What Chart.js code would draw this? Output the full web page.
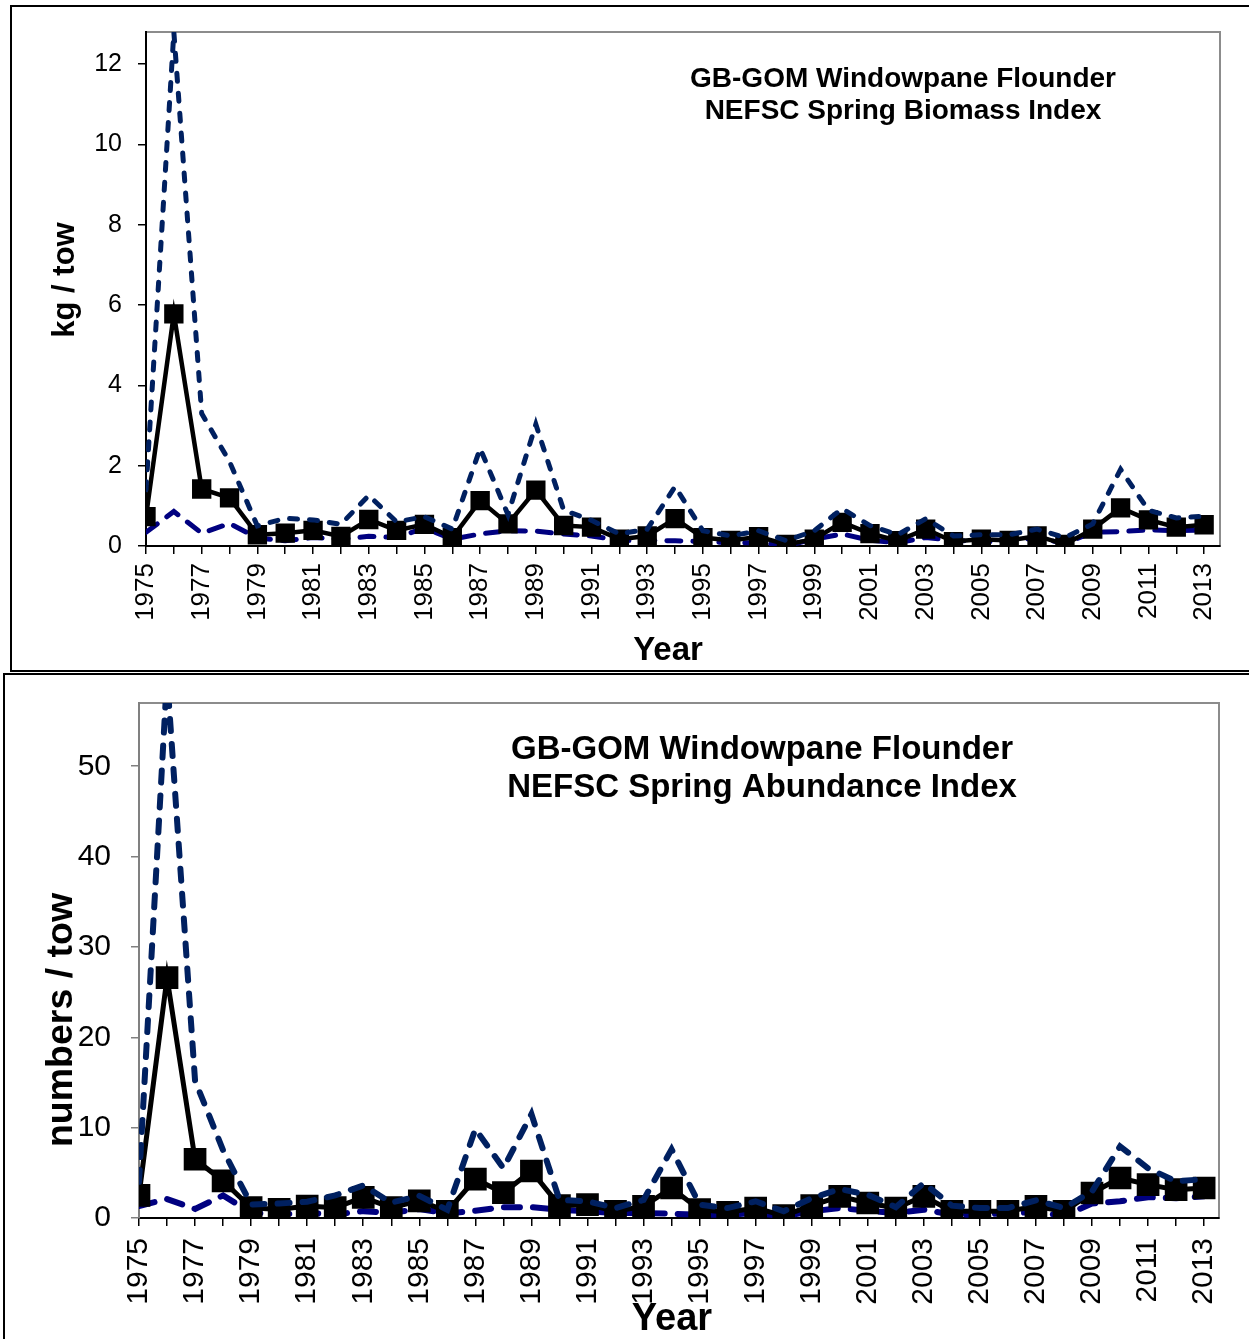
<!DOCTYPE html>
<html>
<head>
<meta charset="utf-8">
<script src="https://cdn.jsdelivr.net/npm/chart.js@4.4.1/dist/chart.umd.min.js"></script>
<style>
  body { margin: 0; background: #fff; overflow: hidden; width: 1249px; height: 1339px; position: relative; }
  .panel { position: absolute; border: 2px solid #000; box-sizing: border-box; }
  canvas { position: absolute; }
</style>
</head>
<body>
<div class="panel" style="left:10px; top:5px; width:1260px; height:667px;"></div>
<div class="panel" style="left:3px; top:673px; width:1270px; height:700px;"></div>
<canvas id="biomass" width="1239" height="665" style="left:10px; top:5px;"></canvas>
<canvas id="abundance" width="1246" height="664" style="left:3px; top:675px;"></canvas>
<script>
const FONT = "'Liberation Sans', Arial, sans-serif";

const years = [1975, 1976, 1977, 1978, 1979, 1980, 1981, 1982, 1983, 1984,
               1985, 1986, 1987, 1988, 1989, 1990, 1991, 1992, 1993, 1994,
               1995, 1996, 1997, 1998, 1999, 2000, 2001, 2002, 2003, 2004,
               2005, 2006, 2007, 2008, 2009, 2010, 2011, 2012, 2013];

// spring biomass index (kg / tow) with upper and lower bounds
const biomass = [0.73, 5.78, 1.42, 1.2, 0.28, 0.32, 0.39, 0.24, 0.66, 0.39,
                 0.54, 0.21, 1.13, 0.55, 1.39, 0.51, 0.47, 0.17, 0.25, 0.68,
                 0.21, 0.14, 0.23, 0.04, 0.17, 0.59, 0.31, 0.13, 0.42, 0.11,
                 0.17, 0.14, 0.25, 0.04, 0.42, 0.95, 0.65, 0.47, 0.53];
const biomassUpper = [1.4, 12.8, 3.3, 2.1, 0.5, 0.69, 0.65, 0.54, 1.26, 0.6,
                      0.73, 0.42, 2.43, 0.78, 3.03, 0.89, 0.64, 0.3, 0.42, 1.48,
                      0.38, 0.25, 0.38, 0.13, 0.38, 0.93, 0.51, 0.28, 0.68, 0.25,
                      0.28, 0.28, 0.42, 0.21, 0.55, 1.91, 0.89, 0.7, 0.74];
const biomassLower = [0.34, 0.86, 0.32, 0.56, 0.2, 0.13, 0.21, 0.17, 0.24, 0.21,
                      0.45, 0.17, 0.3, 0.38, 0.37, 0.3, 0.25, 0.14, 0.14, 0.13,
                      0.11, 0.08, 0.08, 0.01, 0.17, 0.3, 0.14, 0.08, 0.21, 0.14,
                      0.11, 0.11, 0.21, 0.06, 0.34, 0.36, 0.4, 0.38, 0.4];

// spring abundance index (numbers / tow) with upper and lower bounds
const abundance = [2.5, 26.6, 6.5, 4.1, 1.14, 0.95, 1.33, 1.14, 2.29, 1.14,
                   1.9, 0.75, 4.3, 2.8, 5.2, 1.37, 1.48, 0.74, 1.29, 3.32,
                   0.92, 0.63, 1.1, 0.26, 1.37, 2.4, 1.66, 1.1, 2.4, 0.74,
                   0.74, 0.74, 1.29, 0.74, 2.77, 4.43, 3.69, 3.14, 3.32];
const abundanceUpper = [4.0, 60, 15.2, 7.5, 1.5, 1.6, 1.8, 2.5, 3.6, 1.7,
                        2.45, 0.9, 9.85, 5.5, 11.5, 2.0, 1.85, 1.1, 2.0, 7.6,
                        1.48, 1.1, 1.85, 0.74, 2.2, 3.2, 2.58, 1.2, 3.87, 1.37,
                        1.1, 1.1, 1.96, 1.1, 2.95, 7.93, 5.5, 4.06, 4.3];
const abundanceLower = [1.33, 2.1, 1.0, 2.5, 0.57, 0.38, 0.57, 0.38, 0.76, 0.57,
                        1.0, 0.5, 0.8, 1.2, 1.2, 0.9, 0.74, 0.55, 0.55, 0.48,
                        0.37, 0.37, 0.55, 0.18, 0.74, 1.1, 0.8, 0.55, 0.92, 0.37,
                        0.37, 0.55, 0.63, 0.26, 1.6, 1.85, 2.3, 2.2, 2.4];

const toPoints = (vals) => years.map((y, i) => ({ x: y, y: vals[i] }));

// gray frame around the plot, then the title and axis titles on top
const framePlugin = {
    id: 'frame',
    beforeDraw(chart) {
        const { ctx, chartArea: a } = chart;
        ctx.save();
        ctx.strokeStyle = '#8c8c8c';
        ctx.lineWidth = 2;
        ctx.strokeRect(a.left, a.top, a.right - a.left, a.bottom - a.top);
        ctx.restore();
    },
    afterDraw(chart, args, opts) {
        const ctx = chart.ctx;
        opts.texts.forEach((t) => {
            ctx.save();
            ctx.fillStyle = '#000';
            ctx.textAlign = 'center';
            ctx.textBaseline = 'middle';
            ctx.font = 'bold ' + t.size + 'px ' + FONT;
            ctx.translate(t.x, t.y);
            if (t.rotate) ctx.rotate(-Math.PI / 2);
            ctx.fillText(t.text, 0, 0);
            ctx.restore();
        });
    }
};

function makeChart(id, o) {
    return new Chart(document.getElementById(id), {
        type: 'line',
        data: {
            datasets: [
                {
                    label: 'Lower', data: toPoints(o.lower),
                    borderColor: '#000080', borderWidth: o.dashWidth,
                    borderDash: o.lowerDash, borderCapStyle: 'round',
                    pointRadius: 0, tension: 0, order: 3
                },
                {
                    label: 'Index', data: toPoints(o.mean),
                    borderColor: '#000', borderWidth: o.meanWidth,
                    pointStyle: 'rect', pointRadius: o.markerR,
                    pointBackgroundColor: '#000', pointBorderColor: '#000',
                    tension: 0, order: 2
                },
                {
                    label: 'Upper', data: toPoints(o.upper),
                    borderColor: '#002060', borderWidth: o.dashWidth,
                    borderDash: o.upperDash, borderCapStyle: 'round',
                    pointRadius: 0, tension: 0, order: 1
                }
            ]
        },
        options: {
            responsive: false,
            animation: false,
            devicePixelRatio: 1,
            layout: { padding: o.padding },
            plugins: {
                legend: { display: false },
                tooltip: { enabled: false },
                frame: { texts: o.texts }
            },
            scales: {
                x: {
                    type: 'linear',
                    min: 1975,
                    max: o.xMax,
                    afterFit: (s) => {
                        s.height = o.xHeight;
                        s.paddingLeft = 0;
                        s.paddingRight = 0;
                    },
                    border: { color: '#000', width: 2 },
                    grid: { drawOnChartArea: false, drawTicks: true, tickLength: 8, color: '#000', lineWidth: 1.5 },
                    ticks: {
                        stepSize: 1,
                        includeBounds: false,
                        autoSkip: false,
                        maxRotation: 90,
                        minRotation: 90,
                        padding: o.xPad,
                        color: '#000',
                        font: { family: FONT, size: o.xTickSize },
                        callback: (v) => (v % 2 === 1 ? String(v) : '')
                    }
                },
                y: {
                    min: 0,
                    max: o.yMax,
                    afterFit: (s) => {
                        s.width = o.yWidth;
                        s.paddingTop = 0;
                        s.paddingBottom = 0;
                    },
                    border: { color: o.yAxisColor, width: 2 },
                    grid: { drawOnChartArea: false, drawTicks: true, tickLength: 8, color: o.yAxisColor, lineWidth: 1.5 },
                    ticks: {
                        stepSize: o.yStep,
                        includeBounds: false,
                        padding: o.yPad,
                        color: '#000',
                        font: { family: FONT, size: o.yTickSize }
                    }
                }
            }
        },
        plugins: [framePlugin]
    });
}

makeChart('biomass', {
    mean: biomass, upper: biomassUpper, lower: biomassLower,
    padding: { left: 0, top: 27, right: 29, bottom: 0 },
    xMax: 2013.57, yMax: 12.8, yStep: 2,
    xHeight: 124, yWidth: 136,
    xPad: 9, yPad: 16, xTickSize: 26, yTickSize: 25,
    yAxisColor: '#000',
    dashWidth: 5, meanWidth: 4.5, markerR: 10.5,
    upperDash: [8, 12], lowerDash: [14, 12],
    texts: [
        { text: 'GB-GOM Windowpane Flounder', x: 893, y: 74, size: 28 },
        { text: 'NEFSC Spring Biomass Index', x: 893, y: 106, size: 28 },
        { text: 'kg / tow', x: 55, y: 275, size: 31, rotate: true },
        { text: 'Year', x: 658, y: 646, size: 33 }
    ]
});

makeChart('abundance', {
    mean: abundance, upper: abundanceUpper, lower: abundanceLower,
    padding: { left: 0, top: 28, right: 30, bottom: 0 },
    xMax: 2013.53, yMax: 57, yStep: 10,
    xHeight: 121, yWidth: 136,
    xPad: 12, yPad: 20, xTickSize: 30, yTickSize: 30,
    yAxisColor: '#808080',
    dashWidth: 6, meanWidth: 5, markerR: 12.5,
    upperDash: [12, 13], lowerDash: [16, 13],
    texts: [
        { text: 'GB-GOM Windowpane Flounder', x: 759, y: 75, size: 33 },
        { text: 'NEFSC Spring Abundance Index', x: 759, y: 113, size: 33 },
        { text: 'numbers / tow', x: 59, y: 345, size: 37.5, rotate: true },
        { text: 'Year', x: 669, y: 645, size: 38 }
    ]
});
</script>
</body>
</html>
